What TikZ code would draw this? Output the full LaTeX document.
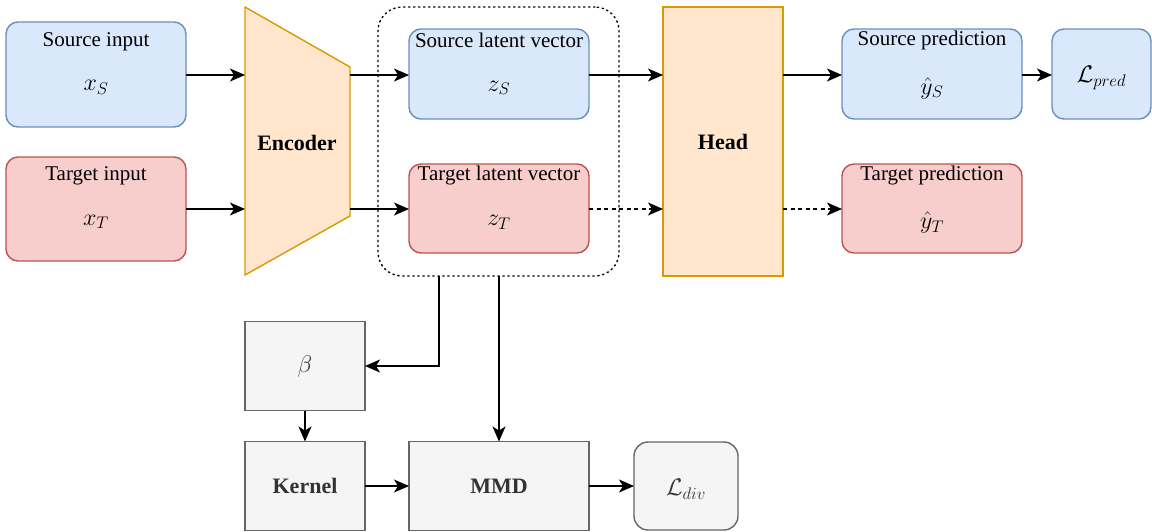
\RequirePackage{fix-cm}
\documentclass[tikz,border=0pt]{standalone}
\usepackage{fontspec}
\setmainfont{Liberation Serif}
\usetikzlibrary{arrows.meta,calc}
\definecolor{bluefill}{HTML}{DAE8FC}
\definecolor{bluedraw}{HTML}{6C8EBF}
\definecolor{redfill}{HTML}{F8CECC}
\definecolor{reddraw}{HTML}{B85450}
\definecolor{orfill}{HTML}{FFE6CC}
\definecolor{ordraw}{HTML}{D79B00}
\definecolor{grayfill}{HTML}{F5F5F5}
\definecolor{graydraw}{HTML}{666666}
\definecolor{graytext}{HTML}{333333}
\begin{document}
\begin{tikzpicture}[x=1pt,y=-1pt,
  every node/.style={inner sep=0pt, outer sep=0pt},
  lw/.style={line width=1.4pt},
  bluebox/.style={lw, draw=bluedraw, fill=bluefill, rounded corners=12pt},
  redbox/.style={lw, draw=reddraw, fill=redfill, rounded corners=12pt},
  graybox/.style={lw, draw=graydraw, fill=grayfill, text=graytext},
  orbox/.style={lw, draw=ordraw, fill=orfill},
  title/.style={font=\fontsize{21}{25}\selectfont},
  bold/.style={font=\fontsize{22}{26}\selectfont\bfseries},
  mth/.style={font=\fontsize{24}{28}\selectfont},
  tip/.style={-{Stealth[length=15pt,width=13pt,inset=4pt]}},
  arr/.style={line width=1.5pt, tip},
  dasharr/.style={line width=1.5pt, dash pattern=on 4pt off 3.5pt, tip},
]
\useasboundingbox (0,0) rectangle (1152,531);

% inputs
\node[bluebox, minimum width=180pt, minimum height=105pt] (srcin) at (96,74.5) {};
\node[title] at ($(srcin.center)+(0,-33)$) {Source input};
\node[mth] at ($(srcin.center)+(0,13)$) {$x_S$};
\node[redbox, minimum width=180pt, minimum height=104pt] (tgtin) at (96,209) {};
\node[title] at ($(tgtin.center)+(0,-33)$) {Target input};
\node[mth] at ($(tgtin.center)+(0,13)$) {$x_T$};

% encoder
\coordinate (encSin) at (245,75);
\coordinate (encTin) at (245,209);
\coordinate (encSout) at (350,75);
\coordinate (encTout) at (350,209);
\draw[orbox] (245,7) -- (350,67) -- (350,216) -- (245,275) -- cycle;
\node[bold] (enc) at (297,143) {Encoder};

% latent group
\node[lw, draw, dash pattern=on 1.4pt off 3.6pt, line cap=round, rounded corners=24pt,
      minimum width=241pt, minimum height=269pt] (latent) at (498.5,141.5) {};
\node[bluebox, minimum width=180pt, minimum height=90pt] (zs) at (499,74) {};
\node[title] at ($(zs.center)+(0,-33.5)$) {Source latent vector};
\node[mth] at ($(zs.center)+(0,14)$) {$z_S$};
\node[redbox, minimum width=180pt, minimum height=89pt] (zt) at (499,208.5) {};
\node[title] at ($(zt.center)+(0,-33.5)$) {Target latent vector};
\node[mth] at ($(zt.center)+(0,14)$) {$z_T$};

% head
\node[orbox, minimum width=120pt, minimum height=269pt] (head) at (723,141.5) {};
\node[bold] at (head.center) {Head};

% predictions
\node[bluebox, minimum width=180pt, minimum height=90pt] (ys) at (932,74) {};
\node[title] at ($(ys.center)+(0,-33.5)$) {Source prediction};
\node[mth] at ($(ys.center)+(0,14)$) {$\hat{y}_S$};
\node[redbox, minimum width=180pt, minimum height=89pt] (yt) at (932,208.5) {};
\node[title] at ($(yt.center)+(0,-33.5)$) {Target prediction};
\node[mth] at ($(yt.center)+(0,14)$) {$\hat{y}_T$};
\node[bluebox, minimum width=99pt, minimum height=90pt] (lpred) at (1101.5,74) {};
\node[mth] at ($(lpred.center)+(0,4)$) {$\mathcal{L}_{pred}$};

% divergence branch
\node[graybox, minimum width=120pt, minimum height=89pt] (beta) at (305,366) {};
\node[mth, text=graytext] at (beta.center) {$\beta$};
\node[graybox, minimum width=120pt, minimum height=89pt] (kernel) at (305,486) {};
\node[bold, text=graytext] at (kernel.center) {Kernel};
\node[graybox, minimum width=180pt, minimum height=89pt] (mmd) at (499,486) {};
\node[bold, text=graytext] at (mmd.center) {MMD};
\node[graybox, rounded corners=14pt, minimum width=104pt, minimum height=88pt] (ldiv) at (686,486) {};
\node[mth, text=graytext] at ($(ldiv.center)+(0,3)$) {$\mathcal{L}_{div}$};

% connectors
\draw[arr] (srcin.east |- encSin) -- (encSin);
\draw[arr] (tgtin.east |- encTin) -- (encTin);
\draw[arr] (encSout) -- (zs.west |- encSout);
\draw[arr] (encTout) -- (zt.west |- encTout);
\draw[arr] (zs.east |- encSout) -- (head.west |- encSout);
\draw[dasharr] (zt.east |- encTout) -- (head.west |- encTout);
\draw[arr] (head.east |- encSout) -- (ys.west |- encSout);
\draw[dasharr] (head.east |- encTout) -- (yt.west |- encTout);
\draw[arr] (ys.east |- encSout) -- (lpred.west |- encSout);

\coordinate (tap) at (439,0);
\draw[arr] (latent.south -| tap) |- (beta.east);
\draw[arr] (latent.south -| mmd.north) -- (mmd.north);
\draw[arr] (beta.south) -- (kernel.north);
\draw[arr] (kernel.east) -- (mmd.west);
\draw[arr] (mmd.east) -- (ldiv.west);
\end{tikzpicture}
\end{document}
